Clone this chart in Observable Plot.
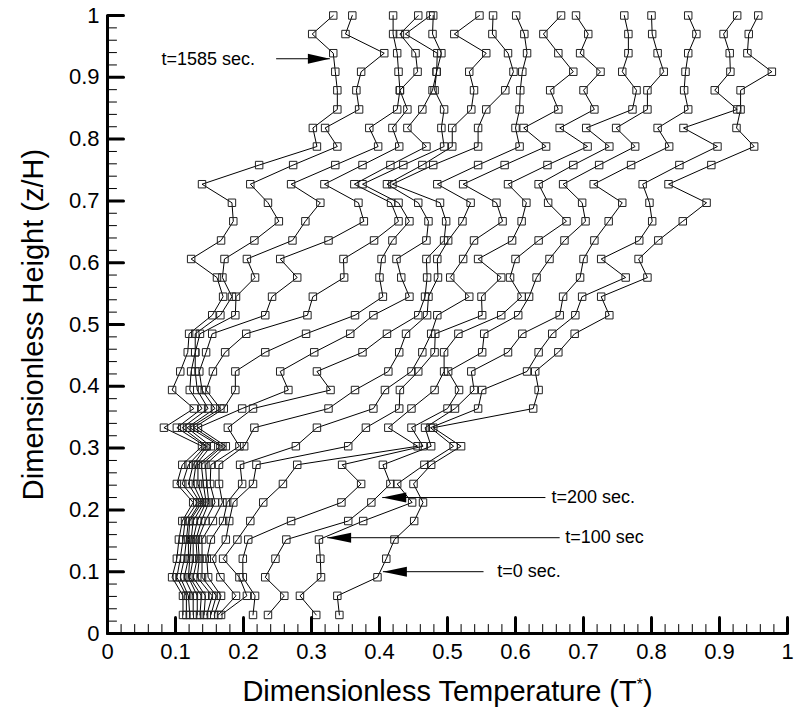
<!DOCTYPE html>
<html>
<head>
<meta charset="utf-8">
<script src="https://cdn.jsdelivr.net/npm/d3@7"></script>
<script src="https://cdn.jsdelivr.net/npm/@observablehq/plot@0.6"></script>
<style>
  html, body { margin: 0; padding: 0; background: #fff; }
  #chart { width: 794px; height: 715px; }
</style>
</head>
<body>
<div id="chart"></div>
<script>
// Dimensionless heights (z/H) of the measurement levels, bottom to top
const heights = [0.030, 0.061, 0.091, 0.121, 0.152, 0.182, 0.212, 0.242, 0.273, 0.303, 0.333,
                 0.364, 0.394, 0.424, 0.455, 0.485, 0.515, 0.545, 0.576, 0.606, 0.636, 0.667,
                 0.697, 0.727, 0.758, 0.788, 0.818, 0.848, 0.879, 0.909, 0.939, 0.970, 1.000];

// Temperature profiles T* (one value per height), from t=0 sec (p1) to t=1585 sec (p16)
const p1  = [0.341, 0.338, 0.397, 0.410, 0.422, 0.451, 0.464, 0.450, 0.476, 0.520, 0.479, 0.626, 0.634, 0.629, 0.663, 0.687, 0.738, 0.726, 0.794, 0.781, 0.810, 0.846, 0.881, 0.825, 0.888, 0.951, 0.925, 0.931, 0.931, 0.977, 0.941, 0.943, 0.957];
const p2  = [0.307, 0.283, 0.314, 0.313, 0.311, 0.376, 0.448, 0.426, 0.466, 0.509, 0.475, 0.545, 0.551, 0.617, 0.634, 0.654, 0.688, 0.698, 0.762, 0.726, 0.782, 0.801, 0.797, 0.787, 0.841, 0.897, 0.847, 0.926, 0.893, 0.916, 0.915, 0.906, 0.926];
const p3  = [0.236, 0.260, 0.232, 0.247, 0.263, 0.354, 0.388, 0.416, 0.405, 0.476, 0.467, 0.511, 0.539, 0.535, 0.589, 0.610, 0.665, 0.670, 0.695, 0.700, 0.716, 0.737, 0.757, 0.715, 0.770, 0.826, 0.809, 0.854, 0.848, 0.850, 0.854, 0.866, 0.854];
const p4  = [0.214, 0.217, 0.199, 0.199, 0.207, 0.270, 0.344, 0.373, 0.345, 0.464, 0.447, 0.500, 0.517, 0.501, 0.551, 0.554, 0.604, 0.620, 0.631, 0.650, 0.672, 0.703, 0.698, 0.670, 0.723, 0.776, 0.748, 0.794, 0.794, 0.818, 0.809, 0.801, 0.800];
const p5  = [0.167, 0.205, 0.194, 0.170, 0.191, 0.210, 0.229, 0.258, 0.279, 0.456, 0.413, 0.447, 0.481, 0.495, 0.495, 0.516, 0.579, 0.609, 0.592, 0.600, 0.634, 0.675, 0.648, 0.634, 0.685, 0.738, 0.704, 0.772, 0.778, 0.757, 0.766, 0.766, 0.760];
const p6  = [0.163, 0.189, 0.166, 0.154, 0.174, 0.179, 0.185, 0.214, 0.219, 0.354, 0.380, 0.429, 0.430, 0.457, 0.481, 0.482, 0.551, 0.550, 0.579, 0.545, 0.595, 0.609, 0.616, 0.589, 0.647, 0.706, 0.665, 0.716, 0.700, 0.725, 0.695, 0.707, 0.689];
const p7  = [0.157, 0.167, 0.148, 0.146, 0.152, 0.170, 0.176, 0.198, 0.195, 0.277, 0.308, 0.391, 0.408, 0.447, 0.463, 0.476, 0.485, 0.532, 0.504, 0.523, 0.539, 0.581, 0.572, 0.523, 0.584, 0.645, 0.612, 0.663, 0.651, 0.685, 0.663, 0.641, 0.667];
const p8  = [0.152, 0.160, 0.139, 0.139, 0.139, 0.155, 0.169, 0.164, 0.164, 0.201, 0.216, 0.325, 0.364, 0.413, 0.429, 0.439, 0.470, 0.472, 0.486, 0.485, 0.501, 0.522, 0.534, 0.485, 0.545, 0.606, 0.600, 0.606, 0.607, 0.610, 0.617, 0.613, 0.601];
const p9  = [0.146, 0.154, 0.132, 0.135, 0.133, 0.144, 0.158, 0.151, 0.152, 0.194, 0.177, 0.214, 0.328, 0.308, 0.375, 0.411, 0.457, 0.467, 0.470, 0.469, 0.495, 0.498, 0.489, 0.419, 0.479, 0.545, 0.545, 0.557, 0.585, 0.597, 0.589, 0.566, 0.567];
const p10 = [0.142, 0.144, 0.126, 0.132, 0.130, 0.138, 0.149, 0.146, 0.144, 0.174, 0.133, 0.198, 0.266, 0.254, 0.304, 0.357, 0.391, 0.444, 0.432, 0.425, 0.469, 0.472, 0.457, 0.411, 0.463, 0.507, 0.507, 0.535, 0.539, 0.532, 0.557, 0.510, 0.547];
const p11 = [0.136, 0.138, 0.121, 0.126, 0.126, 0.132, 0.145, 0.141, 0.138, 0.169, 0.127, 0.171, 0.188, 0.188, 0.232, 0.292, 0.364, 0.405, 0.400, 0.403, 0.419, 0.444, 0.428, 0.375, 0.435, 0.495, 0.491, 0.495, 0.481, 0.484, 0.491, 0.478, 0.479];
const p12 = [0.132, 0.132, 0.119, 0.121, 0.123, 0.126, 0.142, 0.133, 0.133, 0.166, 0.121, 0.166, 0.145, 0.155, 0.173, 0.204, 0.294, 0.302, 0.348, 0.347, 0.392, 0.428, 0.417, 0.363, 0.416, 0.469, 0.441, 0.463, 0.478, 0.484, 0.485, 0.438, 0.475];
const p13 = [0.126, 0.126, 0.113, 0.119, 0.119, 0.121, 0.139, 0.126, 0.130, 0.152, 0.117, 0.158, 0.139, 0.135, 0.145, 0.154, 0.232, 0.242, 0.279, 0.254, 0.325, 0.377, 0.369, 0.319, 0.375, 0.429, 0.419, 0.441, 0.430, 0.456, 0.453, 0.430, 0.457];
const p14 = [0.121, 0.119, 0.107, 0.113, 0.116, 0.119, 0.136, 0.119, 0.126, 0.146, 0.110, 0.148, 0.132, 0.129, 0.129, 0.136, 0.188, 0.189, 0.217, 0.205, 0.272, 0.291, 0.313, 0.270, 0.335, 0.398, 0.385, 0.426, 0.430, 0.428, 0.426, 0.420, 0.420];
const p15 = [0.116, 0.116, 0.102, 0.107, 0.111, 0.114, 0.132, 0.110, 0.119, 0.144, 0.102, 0.139, 0.121, 0.123, 0.129, 0.129, 0.166, 0.183, 0.169, 0.172, 0.216, 0.252, 0.236, 0.210, 0.273, 0.338, 0.320, 0.370, 0.366, 0.373, 0.407, 0.350, 0.360];
const p16 = [0.111, 0.111, 0.095, 0.102, 0.105, 0.110, 0.126, 0.102, 0.110, 0.139, 0.083, 0.127, 0.095, 0.107, 0.118, 0.120, 0.154, 0.170, 0.161, 0.123, 0.167, 0.185, 0.183, 0.139, 0.223, 0.308, 0.302, 0.338, 0.338, 0.335, 0.332, 0.301, 0.332];

// Axis ticks and titles
const majorTicks = [0, 0.1, 0.2, 0.3, 0.4, 0.5, 0.6, 0.7, 0.8, 0.9, 1];
const xTitle = "Dimensionless Temperature (T*)";
const yTitle = "Dimensionless Height (z/H)";

// Time annotations (arrow tip, arrow tail, text position, all in data units)
const annText   = ["t=1585 sec.", "t=200 sec.", "t=100 sec", "t=0 sec."];
const annZ      = [0.930, 0.220, 0.155, 0.100];
const annTip    = [0.327, 0.404, 0.323, 0.405];
const annTail   = [0.248, 0.644, 0.665, 0.553];
const annTextAt = [0.217, 0.653, 0.673, 0.573];
const annDir    = ["right", "left", "left", "left"];

// ---------- build ----------
const profiles = [p1, p2, p3, p4, p5, p6, p7, p8, p9, p10, p11, p12, p13, p14, p15, p16];
const table = [];
profiles.forEach((p, s) => p.forEach((T, k) => table.push({s, T, z: heights[k]})));

const minorTicks = d3.range(0, 51).map(i => i / 50).filter(v => Math.abs(v * 10 - Math.round(v * 10)) > 1e-6);
const fmt = d => d3.format("~g")(d);

const tickShape = { draw(context, l) { context.moveTo(0, 0); context.lineTo(0, -l); } };
const headLeft  = { draw(context) { context.moveTo(0, 0); context.lineTo(24, -5); context.lineTo(24, 5); context.closePath(); } };
const headRight = { draw(context) { context.moveTo(0, 0); context.lineTo(-22, -5); context.lineTo(-22, 5); context.closePath(); } };

const idx = d3.range(annText.length);
const idxL = idx.filter(i => annDir[i] === "left");
const idxR = idx.filter(i => annDir[i] === "right");

const chart = Plot.plot({
  width: 794,
  height: 715,
  marginLeft: 107,
  marginRight: 7,
  marginTop: 15,
  marginBottom: 82,
  x: {domain: [0, 1], label: null},
  y: {domain: [0, 1], label: null},
  style: {fontFamily: "'Liberation Sans', Arial, Helvetica, sans-serif", background: "#fff", color: "#000"},
  marks: [
    // data
    Plot.line(table, {x: "T", y: "z", z: "s", stroke: "#000", strokeWidth: 1}),
    Plot.dot(table, {x: "T", y: "z", symbol: "square", r: 4.2, stroke: "#222", strokeWidth: 1, fill: "none"}),
    // axis lines
    Plot.ruleY([0], {x1: 0, x2: 1, stroke: "#000", strokeWidth: 3}),
    Plot.ruleX([0], {y1: 0, y2: 1, stroke: "#000", strokeWidth: 3}),
    // inward ticks
    Plot.vector(majorTicks, {x: d => d, y: () => 0, length: 16, rotate: 0, anchor: "start", shape: tickShape, stroke: "#000", strokeWidth: 3}),
    Plot.vector(minorTicks, {x: d => d, y: () => 0, length: 9, rotate: 0, anchor: "start", shape: tickShape, stroke: "#000", strokeWidth: 1}),
    Plot.vector(majorTicks, {x: () => 0, y: d => d, length: 16, rotate: 90, anchor: "start", shape: tickShape, stroke: "#000", strokeWidth: 3}),
    Plot.vector(minorTicks, {x: () => 0, y: d => d, length: 9, rotate: 90, anchor: "start", shape: tickShape, stroke: "#000", strokeWidth: 1}),
    // tick labels
    Plot.axisX({ticks: majorTicks, tickSize: 0, tickPadding: 10, tickFormat: fmt, fontSize: 22, label: null}),
    Plot.axisY({ticks: majorTicks, tickSize: 0, tickPadding: 8, tickFormat: fmt, fontSize: 22, label: null}),
    // axis titles
    Plot.text([xTitle], {frameAnchor: "bottom", dy: 58, fontSize: 29, lineAnchor: "middle", textAnchor: "middle", fill: "#000"}),
    Plot.text([yTitle], {frameAnchor: "left", dx: -74, rotate: -90, fontSize: 29, lineAnchor: "middle", textAnchor: "middle", fill: "#000"}),
    // annotations
    Plot.link(idx, {x1: i => annTail[i], y1: i => annZ[i], x2: i => annTip[i], y2: i => annZ[i], stroke: "#000", strokeWidth: 1}),
    Plot.dot(idxL, {x: i => annTip[i], y: i => annZ[i], symbol: headLeft, r: 5, fill: "#000", stroke: "none"}),
    Plot.dot(idxR, {x: i => annTip[i], y: i => annZ[i], symbol: headRight, r: 5, fill: "#000", stroke: "none"}),
    Plot.text(idxL, {x: i => annTextAt[i], y: i => annZ[i], text: i => annText[i], textAnchor: "start", fontSize: 18, fill: "#000"}),
    Plot.text(idxR, {x: i => annTextAt[i], y: i => annZ[i], text: i => annText[i], textAnchor: "end", fontSize: 18, fill: "#000"})
  ]
});

document.getElementById("chart").appendChild(chart);

// superscript asterisk on T*
d3.select(chart).selectAll("text").filter(function () { return this.textContent === xTitle; }).each(function () {
  const t = d3.select(this);
  t.text(null);
  t.append("tspan").text(xTitle.slice(0, xTitle.indexOf("*")));
  t.append("tspan").attr("font-size", 16).attr("dy", -11).text("*");
  t.append("tspan").attr("dy", 11).text(xTitle.slice(xTitle.indexOf("*") + 1));
});
</script>
</body>
</html>
